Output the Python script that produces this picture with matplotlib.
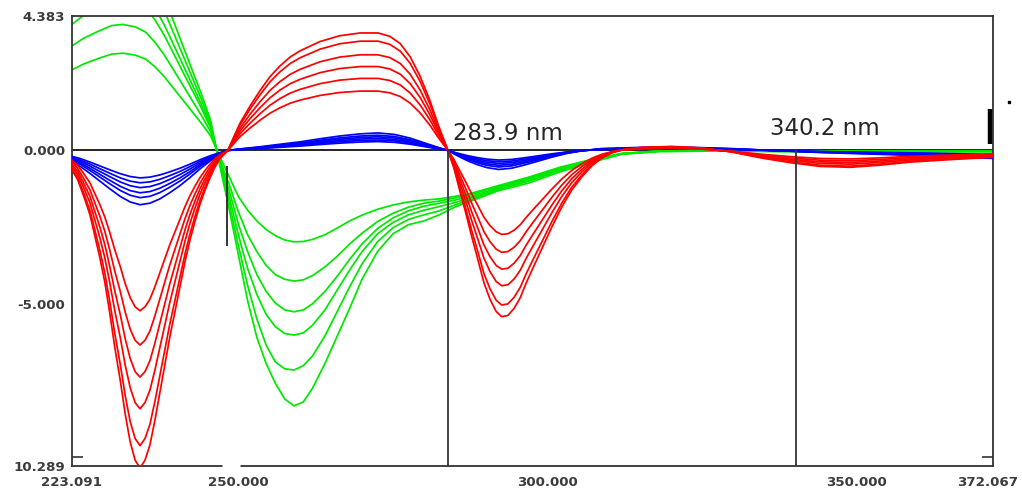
import matplotlib
matplotlib.use('Agg')
import matplotlib.pyplot as plt
import matplotlib.transforms as mtransforms

# ── Axis range and labels ────────────────────────────────────
X_MIN, X_MAX = 223.091, 372.067
Y_MIN, Y_MAX = -10.289, 4.383

x_tick_vals   = [223.091, 250.0, 300.0, 350.0, 372.067]
x_tick_labels = ['223.091', '250.000', '300.000', '350.000', '372.067']
y_tick_vals   = [4.383, 0.0, -5.0, -10.289]
y_tick_labels = ['4.383', '0.000', '-5.000', '10.289']

zero_cross_nm = [283.9, 340.2]

# ── Red set: top-level spectrum + relative levels ───────────
red_nm = [223.091, 224.0, 225.0, 226.0, 226.8, 227.6, 228.4, 229.2, 230.0, 230.9,
          231.7, 232.5, 233.3, 234.1, 234.9, 235.7, 236.5, 237.3, 238.1, 238.9,
          239.8, 240.6, 241.4, 242.2, 243.0, 243.8, 244.6, 245.4, 246.2, 247.0,
          248.3,
          249.5, 250.3, 251.9, 253.5, 255.1, 256.7, 258.4, 260.0, 263.2, 266.4,
          269.7, 272.6, 274.5, 276.2, 277.8, 279.4, 281.0, 282.3, 283.9,
          284.9, 285.8, 286.8, 287.8, 288.8, 289.7, 290.7, 291.7, 292.6, 293.6,
          294.6, 295.6, 296.5, 297.5, 299.1, 300.7, 302.3, 303.9, 305.6, 307.2,
          308.8, 310.4, 312.0, 315.3, 320.1, 325.0, 329.8, 334.7, 339.3, 344.1,
          349.0, 353.8, 358.7, 365.1, 372.067]
red_top = [-0.64, -0.95, -1.5, -2.1, -2.8, -3.5, -4.3, -5.3, -6.4, -7.5,
           -8.6, -9.5, -10.1, -10.35, -10.1, -9.6, -8.8, -7.9, -7.0, -6.1,
           -5.2, -4.4, -3.6, -2.9, -2.3, -1.75, -1.3, -0.9, -0.55, -0.27,
           0.0,
           0.55, 0.9, 1.45, 1.95, 2.4, 2.75, 3.05, 3.25, 3.55, 3.74,
           3.83, 3.83, 3.72, 3.48, 3.05, 2.42, 1.62, 0.85, 0.0,
           -0.6, -1.3, -2.05, -2.85, -3.6, -4.3, -4.85, -5.25, -5.42, -5.38,
           -5.15, -4.8, -4.35, -3.9, -3.2, -2.5, -1.85, -1.3, -0.85, -0.5,
           -0.25, -0.08, 0.02, 0.1, 0.13, 0.08, -0.05, -0.25, -0.4, -0.52,
           -0.55, -0.48, -0.38, -0.3, -0.22]
red_levels = [0.505, 0.613, 0.714, 0.814, 0.930, 1.0]

# ── Blue set ─────────────────────────────────────────────────
blue_nm = [223.091, 224.4, 226.0, 227.6, 229.2, 230.9, 232.5, 234.1, 235.7, 237.3,
           238.9, 240.6, 242.2, 243.8, 245.4, 247.0, 248.3, 250.3, 253.5, 256.7,
           260.0, 263.2, 266.4, 269.7, 272.6, 275.3, 277.8, 280.2, 282.3, 283.9,
           285.4, 287.0, 288.6, 290.2, 292.1, 294.2, 296.2, 298.3, 300.7, 303.1,
           305.6, 308.8, 315.3, 323.4, 329.8, 336.3, 344.4, 352.5, 362.2, 372.067]
blue_top = [-0.38, -0.52, -0.75, -1.0, -1.25, -1.5, -1.68, -1.77, -1.72, -1.58,
            -1.38, -1.14, -0.88, -0.6, -0.35, -0.14, 0.0, 0.05, 0.12, 0.2,
            0.28, 0.38, 0.47, 0.54, 0.57, 0.52, 0.4, 0.24, 0.1, 0.0,
            -0.17, -0.33, -0.46, -0.56, -0.62, -0.58, -0.48, -0.36, -0.22, -0.1,
            -0.01, 0.06, 0.1, 0.1, 0.06, 0.0, -0.07, -0.12, -0.18, -0.26]
blue_levels = [0.506, 0.596, 0.685, 0.78, 0.87, 1.0]

# ── Green set: one list per spectrum ─────────────────────────
green_nm = [223.091, 225.0, 227.5, 229.5, 231.3, 233.3, 235.0, 236.5, 238.0, 239.5,
            241.0, 242.5, 244.0, 245.5,
            247.0, 248.5, 250.0, 251.5, 253.0, 254.5, 256.0, 257.5, 259.0, 260.5,
            262.0, 264.0, 266.0, 268.0, 270.0, 272.5, 275.0, 277.5, 280.0, 282.5,
            285.0, 288.0, 292.0, 297.0, 302.0, 307.0, 312.0, 318.0, 328.0, 341.0,
            357.0, 372.067]
green_curves = [
    [2.63, 2.82, 3.01, 3.14, 3.17, 3.11, 2.98, 2.73, 2.41, 2.03, 1.65, 1.27, 0.89, 0.48,
     -0.2, -0.85, -1.5, -1.95, -2.3, -2.58, -2.78, -2.92, -2.98, -2.97,
     -2.9, -2.75, -2.53, -2.3, -2.11, -1.92, -1.78, -1.68, -1.62, -1.58,
     -1.5, -1.38, -1.15, -0.87, -0.55, -0.3, -0.1, -0.02, -0.02, -0.03, -0.03, -0.03],
    [3.41, 3.66, 3.9, 4.07, 4.11, 4.03, 3.86, 3.53, 3.12, 2.63, 2.14, 1.64, 1.15, 0.62,
     -0.3, -1.1, -2.0, -2.75, -3.3, -3.75, -4.05, -4.2, -4.26, -4.22,
     -4.08, -3.8, -3.45, -3.05, -2.7, -2.32, -2.05, -1.85, -1.72, -1.65,
     -1.55, -1.42, -1.18, -0.9, -0.58, -0.32, -0.1, -0.02, -0.02, -0.03, -0.03, -0.03],
    [4.11, 4.41, 4.7, 4.9, 4.95, 4.85, 4.65, 4.26, 3.76, 3.17, 2.57, 1.98, 1.39, 0.74,
     -0.35, -1.3, -2.4, -3.3, -4.05, -4.6, -4.98, -5.2, -5.26, -5.2,
     -5.0, -4.6, -4.1, -3.55, -3.05, -2.55, -2.2, -1.97, -1.82, -1.72,
     -1.62, -1.48, -1.22, -0.93, -0.6, -0.33, -0.11, -0.02, -0.02, -0.03, -0.03, -0.03],
    [4.48, 4.81, 5.13, 5.35, 5.4, 5.29, 5.08, 4.64, 4.1, 3.46, 2.81, 2.16, 1.51, 0.81,
     -0.4, -1.5, -2.75, -3.85, -4.7, -5.35, -5.75, -5.97, -6.02, -5.95,
     -5.7, -5.2, -4.55, -3.9, -3.3, -2.72, -2.35, -2.1, -1.95, -1.83,
     -1.7, -1.53, -1.26, -0.97, -0.63, -0.35, -0.11, -0.03, -0.02, -0.03, -0.03, -0.03],
    [4.98, 5.34, 5.7, 5.94, 6.0, 5.88, 5.64, 5.16, 4.56, 3.84, 3.12, 2.4, 1.68, 0.9,
     -0.45, -1.7, -3.1, -4.4, -5.5, -6.35, -6.9, -7.12, -7.16, -7.02,
     -6.7, -6.05, -5.25, -4.45, -3.7, -2.98, -2.52, -2.25, -2.1, -1.97,
     -1.78, -1.58, -1.29, -1.0, -0.66, -0.37, -0.12, -0.03, -0.02, -0.03, -0.03, -0.03],
    [5.48, 5.87, 6.27, 6.53, 6.6, 6.47, 6.2, 5.68, 5.02, 4.22, 3.43, 2.64, 1.85, 0.99,
     -0.5, -1.9, -3.4, -4.9, -6.1, -6.95, -7.6, -8.1, -8.33, -8.2,
     -7.75, -6.95, -6.05, -5.15, -4.2, -3.3, -2.72, -2.42, -2.3, -2.1,
     -1.85, -1.62, -1.32, -1.06, -0.7, -0.4, -0.12, -0.03, -0.02, -0.03, -0.03, -0.03],
]

RED, GREEN, BLUE = '#ff0000', '#00e800', '#0000ff'
AXIS_COL = '#333333'
LW = 1.25

# ── Figure ───────────────────────────────────────────────────
fig = plt.figure(figsize=(10.22, 4.93), dpi=100)
ax = fig.add_axes([72 / 1022, 1 - 466 / 493, 921 / 1022, 450 / 493])

ax.axhline(0.0, color='black', lw=1.2, zorder=1)

for ys in green_curves:
    ax.plot(green_nm, ys, color=GREEN, lw=LW, zorder=2)
for k in blue_levels:
    ax.plot(blue_nm, [k * v for v in blue_top], color=BLUE, lw=LW, zorder=3)
for k in red_levels:
    ax.plot(red_nm, [k * v for v in red_top], color=RED, lw=LW, zorder=4)

# zero-crossing cursors
for nm in zero_cross_nm:
    ax.plot([nm, nm], [0.0, Y_MIN], color=AXIS_COL, lw=1.3, zorder=5)
ax.text(284.72, 0.34, '283.9 nm', ha='left', va='baseline',
        fontsize=16.5, color='#262626')
ax.text(336.0, 0.50, '340.2 nm', ha='left', va='baseline',
        fontsize=16.5, color='#262626')

# small cursor marks
ax.plot([248.1, 248.1], [-0.55, -3.08], color=AXIS_COL, lw=1.4, zorder=5)
ax.plot([371.6, 371.6], [0.2, 1.35], color='black', lw=3.2, zorder=5,
        solid_capstyle='butt')
ax.plot([374.66], [1.58], marker='s', ms=1.5, color='black', clip_on=False)

# ── Axes styling ─────────────────────────────────────────────
ax.set_xlim(X_MIN, X_MAX)
ax.set_ylim(Y_MIN, Y_MAX)

for sp in ax.spines.values():
    sp.set_color(AXIS_COL)
    sp.set_linewidth(1.3)

ax.set_xticks(x_tick_vals)
ax.set_xticklabels(x_tick_labels)
ax.set_yticks(y_tick_vals)
ax.set_yticklabels(y_tick_labels)
ax.tick_params(which='major', length=0, pad=7, labelsize=9.6,
               labelcolor='#3c3c3c')
ax.tick_params(axis='y', which='major', pad=5)

ax.set_xticks([250.0, 300.0, 350.0], minor=True)
ax.set_yticks([0.0, -5.0, -10.0], minor=True)
ax.tick_params(axis='x', which='minor', direction='in', length=5, width=1.2,
               color=AXIS_COL, top=True, bottom=True)
ax.tick_params(axis='y', which='minor', direction='in', length=8, width=1.2,
               color=AXIS_COL, left=True, right=True)

for lab in ax.get_xticklabels() + ax.get_yticklabels():
    lab.set_fontweight('bold')

# keep the last x label inside the canvas
last = ax.get_xticklabels()[-1]
last.set_transform(last.get_transform() +
                   mtransforms.ScaledTranslation(-5 / 100, 0, fig.dpi_scale_trans))

# break in the lower frame under the 250 label
ax.plot([247.35, 250.25], [Y_MIN, Y_MIN], color='white', lw=3.5,
        zorder=10, clip_on=False, solid_capstyle='butt')

fig.savefig('out.png', dpi=100)
